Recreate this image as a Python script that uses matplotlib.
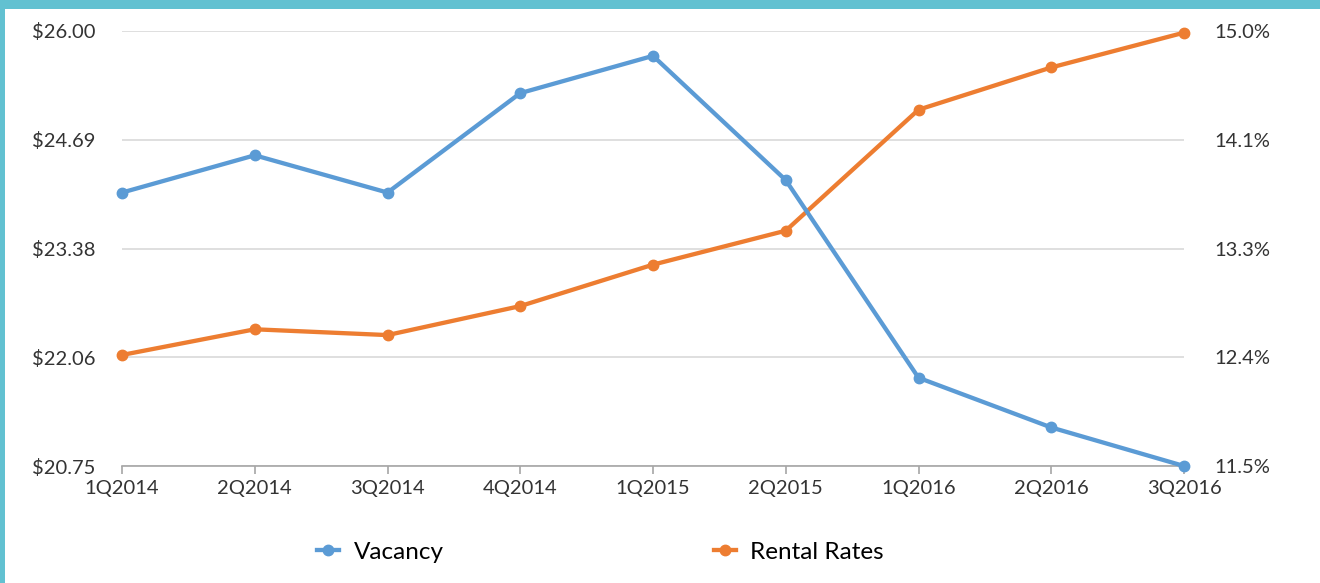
import matplotlib
matplotlib.use("Agg")
import matplotlib.pyplot as plt
from matplotlib.patches import Rectangle
from matplotlib.lines import Line2D

plt.rcParams['font.family'] = ['Lato', 'DejaVu Sans']

quarters = ['1Q2014', '2Q2014', '3Q2014', '4Q2014', '1Q2015', '2Q2015', '1Q2016', '2Q2016', '3Q2016']
rental = [22.09, 22.40, 22.33, 22.68, 23.18, 23.59, 25.05, 25.56, 25.98]
vacancy = [13.70, 14.00, 13.70, 14.50, 14.80, 13.80, 12.21, 11.81, 11.50]

left_ticks = [20.75, 22.0625, 23.375, 24.6875, 26.00]
left_labels = ['$20.75', '$22.06', '$23.38', '$24.69', '$26.00']
right_ticks = [11.5, 12.375, 13.25, 14.125, 15.0]
right_labels = ['11.5%', '12.4%', '13.3%', '14.1%', '15.0%']

blue = '#5B9BD5'
orange = '#ED7D31'
teal = '#62C1D1'

W, H = 1320, 583
fig = plt.figure(figsize=(W / 100, H / 100), dpi=100)

# teal frame on the top and left edges
fig.patches.append(Rectangle((0, 0), 1, 1, transform=fig.transFigure,
                             facecolor=teal, edgecolor='none', zorder=-10))
fig.patches.append(Rectangle((5 / W, 0), (W - 5) / W, (H - 9) / H,
                             transform=fig.transFigure, facecolor='white',
                             edgecolor='none', zorder=-9))

ax = fig.add_axes([122 / W, 117 / H, (1184 - 122) / W, (466 - 31) / H])
ax.patch.set_alpha(0)
x = list(range(len(quarters)))

ax.plot(x, rental, color=orange, lw=3.1, marker='o', ms=7.5, zorder=3, clip_on=False)
ax.set_ylim(20.75, 26.00)
ax.set_yticks(left_ticks)
ax.set_yticklabels(left_labels)
ax.set_xlim(0, len(quarters) - 1)
ax.set_xticks(x)
ax.set_xticklabels(quarters)
ax.grid(axis='y', color='#D9D9D9', lw=1.2)
ax.set_axisbelow(True)

ax2 = ax.twinx()
ax2.plot(x, vacancy, color=blue, lw=3.1, marker='o', ms=7.5, zorder=3, clip_on=False)
ax2.set_ylim(11.5, 15.0)
ax2.set_yticks(right_ticks)
ax2.set_yticklabels(right_labels)

for a in (ax, ax2):
    for s in a.spines.values():
        s.set_visible(False)
    a.tick_params(axis='y', length=0, labelsize=14.5, labelcolor='#333333')
ax.tick_params(axis='y', pad=19)
ax2.tick_params(axis='y', pad=22)
ax.spines['bottom'].set_visible(True)
ax.spines['bottom'].set_color('#A6A6A6')
ax.spines['bottom'].set_linewidth(1.2)
ax.tick_params(axis='x', length=6, color='#A6A6A6', width=1.2, labelsize=14.5,
               labelcolor='#333333', pad=4)

handles = [Line2D([], [], color=blue, lw=3.1, marker='o', ms=7.5),
           Line2D([], [], color=orange, lw=3.1, marker='o', ms=7.5)]
fig.legend(handles, ['Vacancy', 'Rental Rates'], loc='center',
           bbox_to_anchor=(0.455, 31 / H), ncol=2, frameon=False,
           fontsize=17.5, handlelength=0.9, columnspacing=11.1, handletextpad=0.6)

fig.savefig('out.png', dpi=100)
